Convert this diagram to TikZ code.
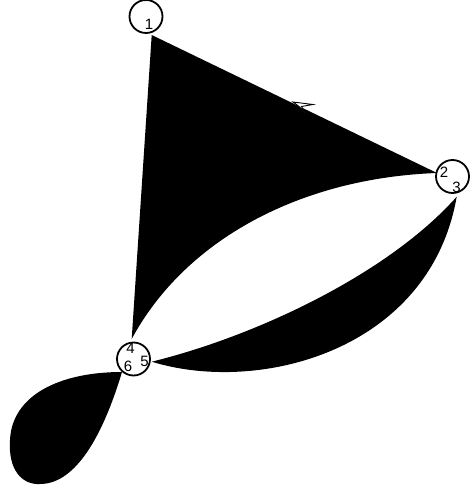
\documentclass[tikz,border=0pt]{standalone}
\usepackage{fontspec}
\setmainfont{Liberation Sans}
\begin{document}
\begin{tikzpicture}[x=1pt,y=-1pt,
  vtx/.style={circle,draw=black,line width=1.8pt,fill=white,minimum size=33pt,inner sep=0pt},
  lab/.style={inner sep=0pt,font=\fontsize{15}{15}\selectfont},
  edgefill/.style={fill=black}]
\useasboundingbox (0,0) rectangle (469,486);
% contact points
\coordinate (c1) at (151.7,35);
\coordinate (c2) at (437,173);
\coordinate (c3) at (456.7,196.7);
\coordinate (c4) at (131.7,339);
\coordinate (c5) at (151.7,361.7);
\coordinate (c6) at (122,372);
% filled edges
\fill[edgefill] (c1) -- (c2) .. controls (300,178) and (185,240) .. (c4) -- cycle;
\fill[edgefill] (c5) .. controls (260,335) and (390,272) .. (c3)
   .. controls (430,350) and (260,395) .. (c5) -- cycle;
\fill[edgefill] (c6) .. controls (60,372) and (12,395) .. (10,440)
   .. controls (8,470) and (22,485) .. (40,484)
   .. controls (72,484) and (100,445) .. (c6) -- cycle;
% arrow head on edge 1-2
\coordinate (at) at (293,102);
\filldraw[fill=white,draw=black,line width=0.9pt,line join=miter]
  (at) -- (313,104.5) -- (301.5,106.5) .. controls (302.5,108.5) .. (305.5,113.5)
  .. controls (300,107) .. cycle;
% vertices
\node[vtx] (n1) at (146,16.5) {};
\node[vtx] (n2) at (452.5,176.5) {};
\node[vtx] (n4) at (133.5,359) {};
% labels
\node[lab] (l1) at (149,24.5) {1};
\node[lab] (l2) at (444,172) {2};
\node[lab] (l3) at (456.5,187.5) {3};
\node[lab] (l4) at (130.5,348.5) {4};
\node[lab] (l5) at (144.5,361) {5};
\node[lab] (l6) at (128,366.5) {6};
\end{tikzpicture}
\end{document}
